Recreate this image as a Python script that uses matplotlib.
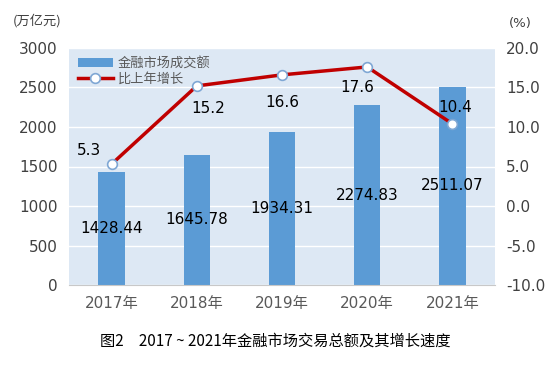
import matplotlib
matplotlib.use("Agg")
import matplotlib.pyplot as plt
import numpy as np

plt.rcParams['font.family'] = ['DejaVu Sans', 'Noto Sans CJK SC']

years = ["2017年", "2018年", "2019年", "2020年", "2021年"]
volume = [1428.44, 1645.78, 1934.31, 2274.83, 2511.07]
growth = [5.3, 15.2, 16.6, 17.6, 10.4]
left_ticks = [0, 500, 1000, 1500, 2000, 2500, 3000]
right_ticks = [-10.0, -5.0, 0.0, 5.0, 10.0, 15.0, 20.0]

fig = plt.figure(figsize=(5.59, 3.70), dpi=100)
ax = fig.add_axes([0.1234, 0.2297, 0.7621, 0.6406])
ax.set_facecolor('#dde8f4')
x = np.arange(len(years))
bars = ax.bar(x, volume, width=0.31, color='#5b9bd5', label='金融市场成交额', zorder=2)
ax.set_xlim(-0.5, len(years) - 0.5)
ax.set_ylim(0, 3000)
ax.set_yticks(left_ticks)
ax.set_yticklabels([str(t) for t in left_ticks])
ax.grid(axis='y', color='white', linewidth=1, zorder=1)
ax.set_axisbelow(True)
for s in ['top', 'right', 'left']:
    ax.spines[s].set_visible(False)
ax.spines['bottom'].set_color('#c8c8c8')
ax.tick_params(axis='both', length=0, labelsize=11, colors='#404040', pad=8)
ax.set_xticks(x)
ax.set_xticklabels(years, family=['DejaVu Sans', 'Noto Sans CJK SC'], color='#595959')
for xi, v in zip(x, volume):
    ax.text(xi, v / 2, f"{v:.2f}", ha='center', va='center', fontsize=11, color='black', zorder=5)

ax2 = ax.twinx()
ax2.set_ylim(-10, 20)
ax2.set_yticks(right_ticks)
ax2.set_yticklabels([f"{t:.1f}" for t in right_ticks])
for s in ax2.spines.values():
    s.set_visible(False)
ax2.tick_params(axis='y', length=0, labelsize=11, colors='#404040', pad=8)
line, = ax2.plot(x, growth, color='#c00000', linewidth=2.5, marker='o', markersize=7,
                 markerfacecolor='white', markeredgecolor='#7fa7d4', markeredgewidth=1.2,
                 label='比上年增长', zorder=4)
offsets = [(-16, 10), (8, -16), (0, -20), (-7, -15), (2, 12)]
for xi, g, off in zip(x, growth, offsets):
    ax2.annotate(f"{g:.1f}", (xi, g), xytext=off, textcoords='offset points',
                 ha='center', va='center', fontsize=11, color='black')

handles = [bars, line]
leg = ax.legend(handles, ['金融市场成交额', '比上年增长'], loc='upper left',
                bbox_to_anchor=(0.0, 1.0), frameon=False,
                prop={'family': ['Noto Sans CJK SC'], 'size': 9.5},
                handlelength=2.6, handleheight=0.7, handletextpad=0.4,
                labelspacing=0.15, borderaxespad=0.3)
for t in leg.get_texts():
    t.set_color('#595959')

fig.text(37 / 559, 1 - 21 / 370, "(万亿元)", ha='center', va='center', fontsize=9.5,
         color='#404040', family=['Noto Sans CJK SC'])
fig.text(520 / 559, 1 - 23 / 370, "(%)", ha='center', va='center', fontsize=9.5,
         color='#404040', family=['DejaVu Sans'])
fig.text(275 / 559, 1 - 341 / 370, "图2　2017 ~ 2021年金融市场交易总额及其增长速度", ha='center', va='center',
         fontsize=11, fontweight='medium', color='black', family=['Noto Sans CJK SC'])

fig.savefig("out.png", dpi=100, facecolor='white')
